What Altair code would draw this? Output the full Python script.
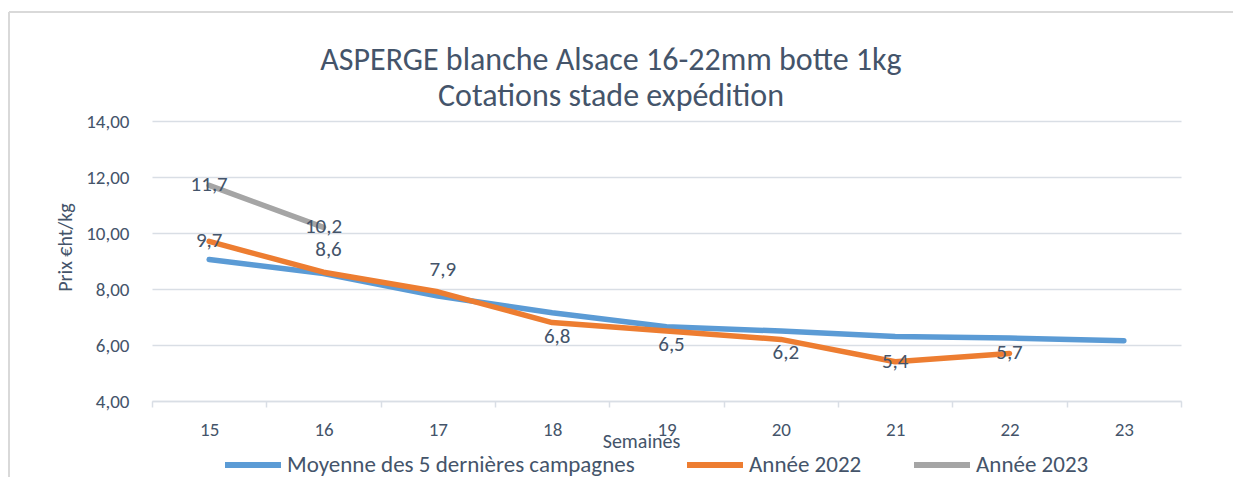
import altair as alt
import pandas as pd

# ---- data ----
weeks = [15, 16, 17, 18, 19, 20, 21, 22, 23]
moyenne = [9.05, 8.55, 7.75, 7.15, 6.65, 6.5, 6.3, 6.25, 6.15]
annee_2022 = [9.7, 8.6, 7.9, 6.8, 6.5, 6.2, 5.4, 5.7]
annee_2023 = [11.7, 10.2]
series_names = ["Moyenne des 5 dernières campagnes", "Année 2022", "Année 2023"]
series_colors = ["#5B9BD5", "#ED7D31", "#A5A5A5"]
y_ticks = [4, 6, 8, 10, 12, 14]
title_lines = ["ASPERGE blanche Alsace 16-22mm botte 1kg", "Cotations stade expédition"]
labelled_series = ["Année 2022", "Année 2023"]
labels_above_2022 = [16, 17]
labels_below_2022 = [18, 19, 20]

TEXT = "#44546A"
GRID = "#D9DEE5"
FONT = "Carlito, Lato, sans-serif"

rows = []
for name, vals in zip(series_names, [moyenne, annee_2022, annee_2023]):
    for w, v in zip(weeks, vals):
        place = "center"
        if name == "Année 2022" and w in labels_above_2022:
            place = "above"
        elif name == "Année 2022" and w in labels_below_2022:
            place = "below"
        rows.append({
            "week": w, "value": v, "series": name,
            "label": f"{v:.1f}".replace(".", ","),
            "labelled": name in labelled_series,
            "place": place,
        })
df = pd.DataFrame(rows)

x_enc = alt.X(
    "week:O",
    scale=alt.Scale(type="band", paddingInner=0, paddingOuter=0),
    bandPosition=0.5,
    axis=alt.Axis(
        title="Semaines", labelAngle=0, grid=False,
        tickBand="extent", tickSize=6, tickColor=GRID, tickWidth=1.5,
        domainColor=GRID, domainWidth=1.5,
        labelFontSize=19, labelPadding=13, labelColor=TEXT, labelFont=FONT,
        titleFontSize=20, titleFontWeight="normal", titleColor=TEXT, titleFont=FONT,
        titleX=489, titleY=40, titleBaseline="middle", titleAlign="center",
    ),
)
y_enc = alt.Y(
    "value:Q",
    scale=alt.Scale(domain=[4, 14], nice=False, zero=False),
    axis=alt.Axis(
        values=y_ticks,
        labelExpr="replace(format(datum.value, '.2f'), '.', ',')",
        domain=False, ticks=False, gridColor=GRID, gridWidth=1.5,
        labelFontSize=19, labelPadding=23, labelColor=TEXT, labelFont=FONT,
        title="Prix €ht/kg", titleFontSize=20, titleFontWeight="normal",
        titleColor=TEXT, titleFont=FONT, titleAngle=-90,
        titleX=-87, titleY=126, titleBaseline="middle", titleAlign="center",
    ),
)
color_enc = alt.Color(
    "series:N",
    scale=alt.Scale(domain=series_names, range=series_colors),
    legend=alt.Legend(
        title=None, orient="none", legendX=70, legendY=313,
        direction="horizontal", columns=3, padding=0,
        symbolType="stroke", symbolSize=3136, symbolStrokeWidth=6,
        labelFontSize=23, labelOffset=3, columnPadding=40, labelLimit=0,
        labelColor=TEXT, labelFont=FONT,
    ),
)

base = alt.Chart(df)

lines = base.mark_line(strokeWidth=5.5, strokeCap="round", strokeJoin="round").encode(
    x=x_enc, y=y_enc, color=color_enc, detail="series:N"
)

def labels(place, dx, dy):
    return base.transform_filter(
        (alt.datum.labelled == True) & (alt.datum.place == place)
    ).mark_text(fontSize=21, color=TEXT, font=FONT, dx=dx, dy=dy, baseline="middle").encode(
        x=alt.X("week:O", bandPosition=0.5), y="value:Q", text="label:N"
    )

title_df = pd.DataFrame({"t": title_lines, "line": [0, 1]})
title_1 = alt.Chart(title_df).transform_filter(alt.datum.line == 0).mark_text(
    fontSize=32, color=TEXT, font=FONT, baseline="middle", align="center"
).encode(text="t:N", x=alt.value(459), y=alt.value(-61))
title_2 = alt.Chart(title_df).transform_filter(alt.datum.line == 1).mark_text(
    fontSize=32, color=TEXT, font=FONT, baseline="middle", align="center"
).encode(text="t:N", x=alt.value(459), y=alt.value(-25))

border_left = alt.Chart(df).mark_rule(color="#D9D9D9", strokeWidth=1.5).encode(
    x=alt.value(-143), y=alt.value(-109), y2=alt.value(420)
)
border_top = alt.Chart(df).mark_rule(color="#D9D9D9", strokeWidth=1.5).encode(
    x=alt.value(-143), x2=alt.value(1100), y=alt.value(-109)
)

chart = alt.layer(
    border_left, border_top, title_1, title_2, lines,
    labels("center", 0, 0), labels("above", 5, -22), labels("below", 5, 14),
).properties(
    width=1029, height=280,
    autosize=alt.AutoSizeParams(type="none"),
    padding={"left": 144, "top": 113, "right": 52, "bottom": 80},
).configure_view(stroke=None)

chart.save("out.html", embed_options={"renderer": "svg", "actions": False})
